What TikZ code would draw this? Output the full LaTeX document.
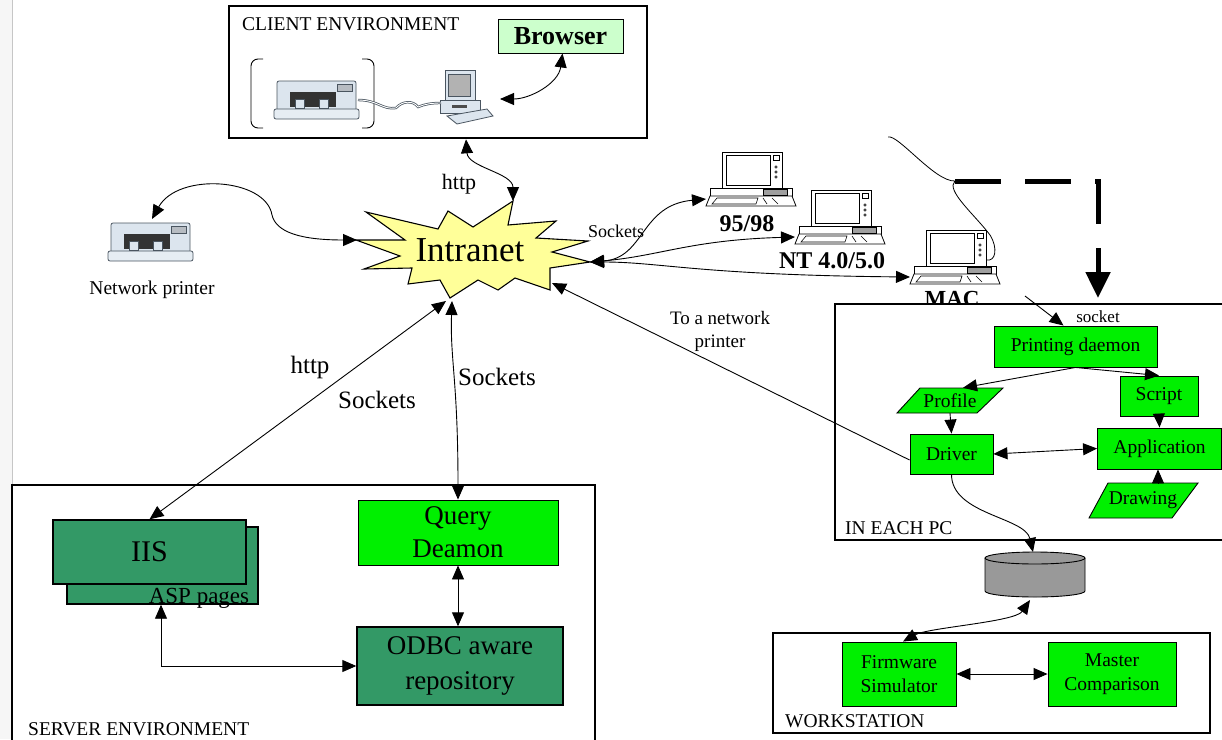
\documentclass[tikz,border=0pt]{standalone}
\usepackage{fontspec}
\setmainfont{Liberation Serif}
\usetikzlibrary{arrows.meta,positioning}

\definecolor{brightgreen}{HTML}{00F000}
\definecolor{seagreen}{HTML}{339966}
\definecolor{palegreen}{HTML}{CCFFCC}
\definecolor{paleyellow}{HTML}{FFFF99}
\definecolor{dbgray}{HTML}{999999}
\definecolor{icon}{HTML}{DCE5EE}
\definecolor{iconline}{HTML}{4A5560}

\newcommand{\fsz}[2]{\fontsize{#1}{#2}\selectfont}

\tikzstyle{every node}=[inner sep=0pt]
\tikzstyle{env}=[draw=black,line width=2.6pt,fill=white]
\tikzstyle{gbox}=[draw=black,fill=brightgreen,line width=0.9pt,align=center,font=\fsz{19.5}{24}]
\tikzstyle{dbox}=[draw=black,fill=seagreen,line width=1.4pt,align=center]
\tikzstyle{lbl}=[align=center,font=\fsz{19.5}{23}]
\tikzstyle{conn}=[line width=0.9pt]

\tikzset{
	>={Triangle[length=14pt,width=12pt]},
	pc/.pic={
		\draw[fill=white,line width=0.8pt] (16,0) rectangle (76,36);
		\draw[line width=0.8pt] (20,3) rectangle (64,33);
		\draw[line width=0.5pt] (67,3) rectangle (73,8);
		\foreach \k in {15,20,25} \draw[line width=0.5pt] (70,\k) circle (1.3);
		\draw[fill=white,line width=0.8pt] (4,36) rectangle (86,44);
		\draw[fill=gray!75,line width=0.5pt] (57,37.5) rectangle (81,43);
		\draw[fill=white,line width=0.8pt] (4,44) -- (86,44) -- (90,54) -- (0,54) -- cycle;
		\draw[line width=0.6pt] (6,52) -- (11,46) -- (52,46) -- (50,52) -- cycle;
		\draw[line width=0.6pt] (57,46) -- (61,52) (66,46) -- (72,52);
		\coordinate (-port) at (0,47);
		\coordinate (-side) at (76,30);
	},
	desk/.pic={
		\draw[fill=icon,draw=iconline,line width=0.8pt] (8,0) rectangle (38,30);
		\draw[fill=gray!60,draw=iconline,line width=0.6pt] (11,4) rectangle (33,26);
		\draw[fill=icon,draw=iconline,line width=0.8pt] (3,30) rectangle (43,43);
		\fill[black!70] (15,35) rectangle (30,38);
		\draw[fill=icon,draw=iconline,line width=0.8pt] (10,46) -- (50,39) -- (56,46) -- (20,54) -- cycle;
		\coordinate (-port) at (63,29);
	},
	printer/.pic={
		\draw[fill=icon,draw=iconline,line width=0.8pt,rounded corners=2pt] (3,3) rectangle (82,33);
		\draw[fill=icon!60!gray,draw=iconline,line width=0.5pt] (63,6) rectangle (78,13);
		\fill[black!80] (16,14) rectangle (62,29);
		\draw[fill=icon,draw=iconline,line width=0.5pt] (21,21) rectangle (30,30) (45,21) rectangle (54,30);
		\draw[fill=icon!70!white,draw=iconline,line width=0.8pt,rounded corners=2pt] (0,31) rectangle (85,41);
		\coordinate (-top) at (44,-1);
	}
}

\begin{document}
\begin{tikzpicture}[x=1pt,y=-1pt]
	\useasboundingbox (0,0) rectangle (1222,739);
	%page edge
	\fill[gray!7] (0,0) rectangle (12,739);
	\draw[gray!45,line width=0.6pt] (12,0) -- (12,739);

	%client environment
	\node[env,minimum width=418pt,minimum height=132pt] (client) at (438,72) {};
	\node[lbl,anchor=base west] (clientlbl) at (242,30) {CLIENT ENVIRONMENT};
	\node[draw=black,fill=palegreen,line width=0.9pt,minimum width=125pt,minimum height=34pt,font=\bfseries\fsz{26}{30}] (browser) at (560.5,36) {Browser};
	\draw[line width=0.9pt,rounded corners=7pt] (263,59) -- (251,59) -- (251,128) -- (263,128)
		(362,59) -- (374,59) -- (374,128) -- (362,128);
	\pic (cprn) at (274,78) {printer};
	\pic (cpc) at (437,70) {desk};
	\foreach \c/\w in {iconline/2.4pt,white/0.9pt}
		\draw[\c,line width=\w] (358,100) .. controls (378,100) and (382,110) .. (396,108)
			.. controls (402,101) and (413,100) .. (418,107) .. controls (425,104) and (432,103) .. (441,103);
	\draw[conn,<->] ([xshift=2pt]browser.south) .. controls +(-4,30) and +(30,0) .. (cpc-port);

	%intranet
	\draw[fill=paleyellow,line width=1.1pt] (366,212) -- (438,229) -- (448,211) -- (473,227) -- (513,201)
		-- (508,225) -- (556,221) -- (536,238) -- (588,241) -- (552,252) -- (590,262) -- (550,268)
		-- (550,290) -- (515,278) -- (498,290) -- (478,280) -- (450,298) -- (440,280) -- (408,284)
		-- (412,268) -- (364,269) -- (400,256) -- (356,240) -- (405,240) -- cycle;
	\node[font=\fsz{35}{35}] (net) at (470,250) {Intranet};
	\coordinate (net-w) at (357,240);
	\coordinate (net-n) at (513,201);
	\coordinate (net-e) at (590,262);
	\coordinate (net-se) at (552,283);
	\coordinate (net-s) at (446,301);
	\coordinate (net-s2) at (452,301);

	\draw[conn,<->] ([xshift=28pt]client.south) .. controls +(2,28) and +(0,-28) .. (net-n);
	\node[font=\fsz{22}{22}] (httptop) at (459,184) {http};

	%network printer
	\pic (nprn) at (108,220) {printer};
	\node[lbl] (nprnlbl) at (152,290) {Network printer};
	\draw[conn,<->] (net-w) .. controls (300,240) and (276,232) .. (272,215)
		.. controls (266,178) and (178,172) .. (nprn-top);

	%clients
	\pic (w95) at (706,152) {pc};
	\pic (wnt) at (795,190) {pc};
	\pic (mac) at (910,230) {pc};
	\node[font=\bfseries\fsz{24}{24}] (w95lbl) at (747,224) {95/98};
	\node[font=\bfseries\fsz{24}{24}] (wntlbl) at (832,261) {NT 4.0/5.0};
	\node[font=\bfseries\fsz{23}{23},anchor=base] (maclbl) at (952,306) {MAC};
	\draw[conn,<->] (net-e) .. controls (645,258) and (640,205) .. (w95-port);
	\draw[conn,<->] (net-e) .. controls (660,256) and (690,240) .. (wnt-port);
	\draw[conn,<->] (net-e) .. controls (660,262) and (700,275) .. (mac-port);
	\node[font=\fsz{18}{18}] (sockright) at (616,231) {Sockets};

	\coordinate (dash0) at (955,181);
	\coordinate (dash1) at (1098,298);
	\draw[line width=0.8pt] (888,137) .. controls (898,134) and (935,182) .. (dash0)
		.. controls (945,190) and (975,215) .. (990,235) .. controls (998,248) and (996,262) .. (mac-side);
	\draw[line width=5pt,dash pattern=on 46pt off 24pt,-{Triangle[length=26pt,width=24pt]}] (dash0) -| (dash1);

	%in each pc
	\node[env,minimum width=405pt,minimum height=236pt] (eachpc) at (1037.5,422) {};
	\node[lbl,anchor=base west] (eachpclbl) at (845,534) {IN EACH PC};
	\node[gbox,minimum width=163pt,minimum height=41pt] (daemon) at (1075.5,346.5) {Printing daemon};
	\node[gbox,minimum width=78pt,minimum height=40pt] (script) at (1159,396) {Script};
	\node[gbox,minimum width=83pt,minimum height=40pt] (driver) at (951.5,454) {Driver};
	\node[gbox,minimum width=124pt,minimum height=41pt] (app) at (1159.5,448.5) {Application};
	\draw[fill=brightgreen,line width=0.9pt] (897,413) -- (920,388) -- (1003,388) -- (977,413) -- cycle;
	\node[lbl,minimum width=80pt,minimum height=25pt] (profile) at (950,400.5) {Profile};
	\draw[fill=brightgreen,line width=0.9pt] (1089,518) -- (1108,483) -- (1198,483) -- (1172,518) -- cycle;
	\node[lbl,minimum width=80pt,minimum height=35pt] (drawing) at (1143,500.5) {Drawing};

	\coordinate (sock) at (1025,296);
	\draw[conn,->] (sock) -- ([xshift=-12pt]daemon.north);
	\node[font=\fsz{17}{17}] (socklbl) at (1098,317) {socket};
	\draw[conn,->] (daemon.south) -- ([xshift=13pt]profile.north);
	\draw[conn,->] (daemon.south) -- (script.north);
	\draw[conn,->] (profile.south) -- (driver.north);
	\draw[conn,->] (script.south) -- (app.north);
	\draw[conn,<->] (driver.east) -- (app.west);
	\draw[conn,->] ([xshift=-1.5pt]app.south |- drawing.north) -- ([xshift=-1.5pt]app.south);

	\draw[conn,->] ([yshift=-6pt]driver.west) -- (net-se);
	\node[lbl,font=\fsz{19}{23}] (tonp) at (720,331) {To a network\\printer};

	%database
	\draw[fill=dbgray,line width=0.9pt] (985,558) -- (985,591) arc[start angle=180,end angle=0,x radius=50,y radius=6] -- (1085,558);
	\draw[fill=dbgray,line width=0.9pt] (1035,558) ellipse[x radius=50,y radius=6];
	\coordinate (db-top) at (1033,552);
	\coordinate (db-bot) at (1030,600);
	\draw[conn,->] (driver.south) .. controls +(0,40) and +(-8,-35) .. (db-top);

	%workstation
	\node[env,minimum width=437pt,minimum height=100pt] (work) at (991.5,683) {};
	\node[lbl,anchor=base west] (worklbl) at (785,727) {WORKSTATION};
	\node[gbox,minimum width=114pt,minimum height=64pt] (firm) at (899,674) {Firmware\\Simulator};
	\node[gbox,minimum width=128pt,minimum height=64pt] (master) at (1112,674) {Master\\Comparison};
	\draw[conn,<->] (firm.east) -- (master.west);
	\draw[conn,<->] (db-bot) .. controls +(-15,22) and +(25,-14) .. ([xshift=4pt]firm.north);

	%server environment
	\node[env,minimum width=583pt,minimum height=290pt] (server) at (303.5,630) {};
	\node[lbl,anchor=base west] (serverlbl) at (28,735) {SERVER ENVIRONMENT};
	\node[dbox,minimum width=191pt,minimum height=77pt] (iisback) at (162.5,565.5) {};
	\node[dbox,minimum width=193pt,minimum height=64pt,font=\fsz{30}{30}] (iis) at (149.5,552) {IIS};
	\node[font=\fsz{23}{23}] (asp) at (199,598) {ASP pages};
	\node[gbox,minimum width=200pt,minimum height=65pt,font=\fsz{27}{33}] (query) at (458,532.5) {Query\\Deamon};
	\node[dbox,minimum width=206pt,minimum height=78pt,font=\fsz{27}{35}] (odbc) at (460,666) {ODBC aware\\repository};
	\draw[conn,<->] (query.south) -- (query.south |- odbc.north);
	\draw[conn,<->] ([xshift=-1.5pt]iisback.south) |- (odbc.west);

	\draw[conn,<->] (net-s) -- (iis.north);
	\draw[conn,<->] (net-s2) .. controls (450,360) and (458,380) .. (query.north);
	\node[font=\fsz{25}{25}] (httpleft) at (310,367) {http};
	\node[font=\fsz{25}{25}] (sockleft) at (377,400) {Sockets};
	\node[font=\fsz{25}{25}] (sockmid) at (497,377) {Sockets};
\end{tikzpicture}
\end{document}
